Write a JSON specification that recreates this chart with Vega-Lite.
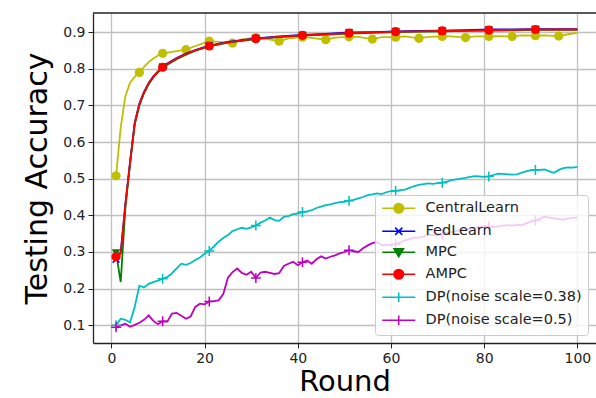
{
  "$schema": "https://vega.github.io/schema/vega-lite/v6.json",
  "width": 503,
  "height": 330,
  "autosize": {"type": "none"},
  "padding": {"left": 93, "top": 13, "right": 0, "bottom": 55},
  "background": "white",
  "config": {
    "view": {"stroke": null},
    "font": "DejaVu Sans",
    "axis": {"labelFont": "DejaVu Sans", "titleFont": "DejaVu Sans", "labelColor": "#222", "titleColor": "#000", "titleFontWeight": "normal", "domainColor": "#222", "domainWidth": 1.3, "tickColor": "#222", "tickWidth": 1, "tickSize": 5, "gridColor": "#c0c0c0", "gridWidth": 1.3, "gridOpacity": 1, "labelFontSize": 14, "labelPadding": 3}
  },
  "datasets": {
    "acc": [
      {"s":"CentralLearn","r":1,"v":0.508},{"s":"CentralLearn","r":2,"v":0.64},{"s":"CentralLearn","r":3,"v":0.725},{"s":"CentralLearn","r":4,"v":0.762},{"s":"CentralLearn","r":5,"v":0.778},{"s":"CentralLearn","r":6,"v":0.79},{"s":"CentralLearn","r":7,"v":0.805},{"s":"CentralLearn","r":8,"v":0.818},{"s":"CentralLearn","r":9,"v":0.828},{"s":"CentralLearn","r":10,"v":0.836},{"s":"CentralLearn","r":11,"v":0.842},{"s":"CentralLearn","r":13,"v":0.846},{"s":"CentralLearn","r":16,"v":0.852},{"s":"CentralLearn","r":18,"v":0.862},{"s":"CentralLearn","r":21,"v":0.875},{"s":"CentralLearn","r":23,"v":0.873},{"s":"CentralLearn","r":26,"v":0.870},{"s":"CentralLearn","r":28,"v":0.880},{"s":"CentralLearn","r":31,"v":0.885},{"s":"CentralLearn","r":33,"v":0.882},{"s":"CentralLearn","r":36,"v":0.875},{"s":"CentralLearn","r":38,"v":0.883},{"s":"CentralLearn","r":41,"v":0.886},{"s":"CentralLearn","r":43,"v":0.884},{"s":"CentralLearn","r":46,"v":0.879},{"s":"CentralLearn","r":48,"v":0.885},{"s":"CentralLearn","r":51,"v":0.887},{"s":"CentralLearn","r":53,"v":0.887},{"s":"CentralLearn","r":56,"v":0.881},{"s":"CentralLearn","r":58,"v":0.886},{"s":"CentralLearn","r":61,"v":0.886},{"s":"CentralLearn","r":63,"v":0.888},{"s":"CentralLearn","r":66,"v":0.883},{"s":"CentralLearn","r":68,"v":0.887},{"s":"CentralLearn","r":71,"v":0.888},{"s":"CentralLearn","r":73,"v":0.888},{"s":"CentralLearn","r":76,"v":0.885},{"s":"CentralLearn","r":78,"v":0.888},{"s":"CentralLearn","r":81,"v":0.888},{"s":"CentralLearn","r":83,"v":0.889},{"s":"CentralLearn","r":86,"v":0.888},{"s":"CentralLearn","r":88,"v":0.891},{"s":"CentralLearn","r":91,"v":0.890},{"s":"CentralLearn","r":93,"v":0.891},{"s":"CentralLearn","r":96,"v":0.889},{"s":"CentralLearn","r":98,"v":0.894},{"s":"CentralLearn","r":100,"v":0.898},

      {"s":"FedLearn","r":1,"v":0.280},{"s":"FedLearn","r":2,"v":0.300},{"s":"FedLearn","r":3,"v":0.43},{"s":"FedLearn","r":4,"v":0.545},{"s":"FedLearn","r":5,"v":0.652},{"s":"FedLearn","r":6,"v":0.705},{"s":"FedLearn","r":7,"v":0.737},{"s":"FedLearn","r":8,"v":0.761},{"s":"FedLearn","r":9,"v":0.779},{"s":"FedLearn","r":10,"v":0.793},{"s":"FedLearn","r":11,"v":0.805},{"s":"FedLearn","r":12,"v":0.814},{"s":"FedLearn","r":14,"v":0.829},{"s":"FedLearn","r":16,"v":0.841},{"s":"FedLearn","r":18,"v":0.851},{"s":"FedLearn","r":21,"v":0.863},{"s":"FedLearn","r":25,"v":0.873},{"s":"FedLearn","r":31,"v":0.883},{"s":"FedLearn","r":36,"v":0.888},{"s":"FedLearn","r":41,"v":0.892},{"s":"FedLearn","r":46,"v":0.895},{"s":"FedLearn","r":51,"v":0.899},{"s":"FedLearn","r":56,"v":0.900},{"s":"FedLearn","r":61,"v":0.902},{"s":"FedLearn","r":66,"v":0.903},{"s":"FedLearn","r":71,"v":0.904},{"s":"FedLearn","r":76,"v":0.905},{"s":"FedLearn","r":81,"v":0.907},{"s":"FedLearn","r":86,"v":0.907},{"s":"FedLearn","r":91,"v":0.908},{"s":"FedLearn","r":96,"v":0.908},{"s":"FedLearn","r":100,"v":0.908},

      {"s":"MPC","r":1,"v":0.297},{"s":"MPC","r":2,"v":0.218},{"s":"MPC","r":3,"v":0.42},{"s":"MPC","r":4,"v":0.540},{"s":"MPC","r":5,"v":0.648},{"s":"MPC","r":6,"v":0.700},{"s":"MPC","r":7,"v":0.733},{"s":"MPC","r":8,"v":0.758},{"s":"MPC","r":9,"v":0.776},{"s":"MPC","r":10,"v":0.790},{"s":"MPC","r":11,"v":0.802},{"s":"MPC","r":12,"v":0.811},{"s":"MPC","r":14,"v":0.826},{"s":"MPC","r":16,"v":0.838},{"s":"MPC","r":18,"v":0.849},{"s":"MPC","r":21,"v":0.861},{"s":"MPC","r":25,"v":0.871},{"s":"MPC","r":31,"v":0.881},{"s":"MPC","r":36,"v":0.886},{"s":"MPC","r":41,"v":0.890},{"s":"MPC","r":46,"v":0.893},{"s":"MPC","r":51,"v":0.896},{"s":"MPC","r":56,"v":0.898},{"s":"MPC","r":61,"v":0.900},{"s":"MPC","r":66,"v":0.901},{"s":"MPC","r":71,"v":0.902},{"s":"MPC","r":76,"v":0.903},{"s":"MPC","r":81,"v":0.904},{"s":"MPC","r":86,"v":0.905},{"s":"MPC","r":91,"v":0.906},{"s":"MPC","r":96,"v":0.906},{"s":"MPC","r":100,"v":0.906},

      {"s":"AMPC","r":1,"v":0.287},{"s":"AMPC","r":2,"v":0.295},{"s":"AMPC","r":3,"v":0.43},{"s":"AMPC","r":4,"v":0.543},{"s":"AMPC","r":5,"v":0.650},{"s":"AMPC","r":6,"v":0.703},{"s":"AMPC","r":7,"v":0.735},{"s":"AMPC","r":8,"v":0.760},{"s":"AMPC","r":9,"v":0.778},{"s":"AMPC","r":10,"v":0.792},{"s":"AMPC","r":11,"v":0.804},{"s":"AMPC","r":12,"v":0.813},{"s":"AMPC","r":14,"v":0.828},{"s":"AMPC","r":16,"v":0.840},{"s":"AMPC","r":18,"v":0.850},{"s":"AMPC","r":21,"v":0.862},{"s":"AMPC","r":25,"v":0.872},{"s":"AMPC","r":31,"v":0.882},{"s":"AMPC","r":36,"v":0.887},{"s":"AMPC","r":41,"v":0.891},{"s":"AMPC","r":46,"v":0.894},{"s":"AMPC","r":51,"v":0.897},{"s":"AMPC","r":56,"v":0.899},{"s":"AMPC","r":61,"v":0.901},{"s":"AMPC","r":66,"v":0.902},{"s":"AMPC","r":71,"v":0.903},{"s":"AMPC","r":76,"v":0.904},{"s":"AMPC","r":81,"v":0.905},{"s":"AMPC","r":86,"v":0.906},{"s":"AMPC","r":91,"v":0.907},{"s":"AMPC","r":96,"v":0.907},{"s":"AMPC","r":100,"v":0.907},

      {"s":"DP(noise scale=0.38)","r":1,"v":0.100},{"s":"DP(noise scale=0.38)","r":2,"v":0.118},{"s":"DP(noise scale=0.38)","r":3,"v":0.115},{"s":"DP(noise scale=0.38)","r":4,"v":0.108},{"s":"DP(noise scale=0.38)","r":5,"v":0.150},{"s":"DP(noise scale=0.38)","r":6,"v":0.208},{"s":"DP(noise scale=0.38)","r":7,"v":0.203},{"s":"DP(noise scale=0.38)","r":8,"v":0.213},{"s":"DP(noise scale=0.38)","r":9,"v":0.218},{"s":"DP(noise scale=0.38)","r":10,"v":0.222},{"s":"DP(noise scale=0.38)","r":11,"v":0.227},{"s":"DP(noise scale=0.38)","r":12,"v":0.232},{"s":"DP(noise scale=0.38)","r":13,"v":0.242},{"s":"DP(noise scale=0.38)","r":14,"v":0.255},{"s":"DP(noise scale=0.38)","r":15,"v":0.268},{"s":"DP(noise scale=0.38)","r":16,"v":0.265},{"s":"DP(noise scale=0.38)","r":17,"v":0.270},{"s":"DP(noise scale=0.38)","r":18,"v":0.278},{"s":"DP(noise scale=0.38)","r":19,"v":0.285},{"s":"DP(noise scale=0.38)","r":20,"v":0.295},{"s":"DP(noise scale=0.38)","r":21,"v":0.303},{"s":"DP(noise scale=0.38)","r":22,"v":0.315},{"s":"DP(noise scale=0.38)","r":23,"v":0.328},{"s":"DP(noise scale=0.38)","r":24,"v":0.338},{"s":"DP(noise scale=0.38)","r":25,"v":0.346},{"s":"DP(noise scale=0.38)","r":26,"v":0.357},{"s":"DP(noise scale=0.38)","r":27,"v":0.362},{"s":"DP(noise scale=0.38)","r":28,"v":0.366},{"s":"DP(noise scale=0.38)","r":29,"v":0.363},{"s":"DP(noise scale=0.38)","r":30,"v":0.367},{"s":"DP(noise scale=0.38)","r":31,"v":0.372},{"s":"DP(noise scale=0.38)","r":32,"v":0.380},{"s":"DP(noise scale=0.38)","r":33,"v":0.386},{"s":"DP(noise scale=0.38)","r":34,"v":0.394},{"s":"DP(noise scale=0.38)","r":35,"v":0.387},{"s":"DP(noise scale=0.38)","r":36,"v":0.385},{"s":"DP(noise scale=0.38)","r":37,"v":0.396},{"s":"DP(noise scale=0.38)","r":38,"v":0.398},{"s":"DP(noise scale=0.38)","r":39,"v":0.403},{"s":"DP(noise scale=0.38)","r":40,"v":0.405},{"s":"DP(noise scale=0.38)","r":41,"v":0.409},{"s":"DP(noise scale=0.38)","r":42,"v":0.411},{"s":"DP(noise scale=0.38)","r":43,"v":0.414},{"s":"DP(noise scale=0.38)","r":44,"v":0.420},{"s":"DP(noise scale=0.38)","r":45,"v":0.424},{"s":"DP(noise scale=0.38)","r":46,"v":0.428},{"s":"DP(noise scale=0.38)","r":47,"v":0.430},{"s":"DP(noise scale=0.38)","r":48,"v":0.433},{"s":"DP(noise scale=0.38)","r":49,"v":0.436},{"s":"DP(noise scale=0.38)","r":50,"v":0.437},{"s":"DP(noise scale=0.38)","r":51,"v":0.440},{"s":"DP(noise scale=0.38)","r":52,"v":0.442},{"s":"DP(noise scale=0.38)","r":53,"v":0.446},{"s":"DP(noise scale=0.38)","r":54,"v":0.450},{"s":"DP(noise scale=0.38)","r":55,"v":0.455},{"s":"DP(noise scale=0.38)","r":56,"v":0.457},{"s":"DP(noise scale=0.38)","r":57,"v":0.460},{"s":"DP(noise scale=0.38)","r":58,"v":0.458},{"s":"DP(noise scale=0.38)","r":59,"v":0.463},{"s":"DP(noise scale=0.38)","r":60,"v":0.466},{"s":"DP(noise scale=0.38)","r":61,"v":0.467},{"s":"DP(noise scale=0.38)","r":62,"v":0.469},{"s":"DP(noise scale=0.38)","r":63,"v":0.470},{"s":"DP(noise scale=0.38)","r":64,"v":0.475},{"s":"DP(noise scale=0.38)","r":65,"v":0.480},{"s":"DP(noise scale=0.38)","r":66,"v":0.483},{"s":"DP(noise scale=0.38)","r":67,"v":0.485},{"s":"DP(noise scale=0.38)","r":68,"v":0.487},{"s":"DP(noise scale=0.38)","r":69,"v":0.486},{"s":"DP(noise scale=0.38)","r":70,"v":0.488},{"s":"DP(noise scale=0.38)","r":71,"v":0.489},{"s":"DP(noise scale=0.38)","r":72,"v":0.492},{"s":"DP(noise scale=0.38)","r":73,"v":0.496},{"s":"DP(noise scale=0.38)","r":74,"v":0.498},{"s":"DP(noise scale=0.38)","r":75,"v":0.500},{"s":"DP(noise scale=0.38)","r":76,"v":0.502},{"s":"DP(noise scale=0.38)","r":77,"v":0.505},{"s":"DP(noise scale=0.38)","r":78,"v":0.507},{"s":"DP(noise scale=0.38)","r":79,"v":0.506},{"s":"DP(noise scale=0.38)","r":80,"v":0.505},{"s":"DP(noise scale=0.38)","r":81,"v":0.506},{"s":"DP(noise scale=0.38)","r":82,"v":0.510},{"s":"DP(noise scale=0.38)","r":83,"v":0.514},{"s":"DP(noise scale=0.38)","r":84,"v":0.513},{"s":"DP(noise scale=0.38)","r":85,"v":0.512},{"s":"DP(noise scale=0.38)","r":86,"v":0.511},{"s":"DP(noise scale=0.38)","r":87,"v":0.512},{"s":"DP(noise scale=0.38)","r":88,"v":0.516},{"s":"DP(noise scale=0.38)","r":89,"v":0.520},{"s":"DP(noise scale=0.38)","r":90,"v":0.523},{"s":"DP(noise scale=0.38)","r":91,"v":0.524},{"s":"DP(noise scale=0.38)","r":92,"v":0.524},{"s":"DP(noise scale=0.38)","r":93,"v":0.525},{"s":"DP(noise scale=0.38)","r":94,"v":0.520},{"s":"DP(noise scale=0.38)","r":95,"v":0.516},{"s":"DP(noise scale=0.38)","r":96,"v":0.524},{"s":"DP(noise scale=0.38)","r":97,"v":0.529},{"s":"DP(noise scale=0.38)","r":98,"v":0.531},{"s":"DP(noise scale=0.38)","r":99,"v":0.530},{"s":"DP(noise scale=0.38)","r":100,"v":0.532},

      {"s":"DP(noise scale=0.5)","r":1,"v":0.095},{"s":"DP(noise scale=0.5)","r":2,"v":0.100},{"s":"DP(noise scale=0.5)","r":3,"v":0.104},{"s":"DP(noise scale=0.5)","r":4,"v":0.096},{"s":"DP(noise scale=0.5)","r":5,"v":0.101},{"s":"DP(noise scale=0.5)","r":6,"v":0.107},{"s":"DP(noise scale=0.5)","r":7,"v":0.115},{"s":"DP(noise scale=0.5)","r":8,"v":0.127},{"s":"DP(noise scale=0.5)","r":9,"v":0.112},{"s":"DP(noise scale=0.5)","r":10,"v":0.103},{"s":"DP(noise scale=0.5)","r":11,"v":0.111},{"s":"DP(noise scale=0.5)","r":12,"v":0.110},{"s":"DP(noise scale=0.5)","r":13,"v":0.132},{"s":"DP(noise scale=0.5)","r":14,"v":0.134},{"s":"DP(noise scale=0.5)","r":15,"v":0.126},{"s":"DP(noise scale=0.5)","r":16,"v":0.118},{"s":"DP(noise scale=0.5)","r":17,"v":0.124},{"s":"DP(noise scale=0.5)","r":18,"v":0.150},{"s":"DP(noise scale=0.5)","r":19,"v":0.159},{"s":"DP(noise scale=0.5)","r":20,"v":0.157},{"s":"DP(noise scale=0.5)","r":21,"v":0.165},{"s":"DP(noise scale=0.5)","r":22,"v":0.166},{"s":"DP(noise scale=0.5)","r":23,"v":0.168},{"s":"DP(noise scale=0.5)","r":24,"v":0.185},{"s":"DP(noise scale=0.5)","r":25,"v":0.230},{"s":"DP(noise scale=0.5)","r":26,"v":0.245},{"s":"DP(noise scale=0.5)","r":27,"v":0.255},{"s":"DP(noise scale=0.5)","r":28,"v":0.243},{"s":"DP(noise scale=0.5)","r":29,"v":0.238},{"s":"DP(noise scale=0.5)","r":30,"v":0.246},{"s":"DP(noise scale=0.5)","r":31,"v":0.229},{"s":"DP(noise scale=0.5)","r":32,"v":0.244},{"s":"DP(noise scale=0.5)","r":33,"v":0.246},{"s":"DP(noise scale=0.5)","r":34,"v":0.243},{"s":"DP(noise scale=0.5)","r":35,"v":0.240},{"s":"DP(noise scale=0.5)","r":36,"v":0.242},{"s":"DP(noise scale=0.5)","r":37,"v":0.262},{"s":"DP(noise scale=0.5)","r":38,"v":0.268},{"s":"DP(noise scale=0.5)","r":39,"v":0.273},{"s":"DP(noise scale=0.5)","r":40,"v":0.264},{"s":"DP(noise scale=0.5)","r":41,"v":0.272},{"s":"DP(noise scale=0.5)","r":42,"v":0.277},{"s":"DP(noise scale=0.5)","r":43,"v":0.268},{"s":"DP(noise scale=0.5)","r":44,"v":0.280},{"s":"DP(noise scale=0.5)","r":45,"v":0.288},{"s":"DP(noise scale=0.5)","r":46,"v":0.282},{"s":"DP(noise scale=0.5)","r":47,"v":0.287},{"s":"DP(noise scale=0.5)","r":48,"v":0.291},{"s":"DP(noise scale=0.5)","r":49,"v":0.296},{"s":"DP(noise scale=0.5)","r":50,"v":0.300},{"s":"DP(noise scale=0.5)","r":51,"v":0.305},{"s":"DP(noise scale=0.5)","r":52,"v":0.302},{"s":"DP(noise scale=0.5)","r":53,"v":0.300},{"s":"DP(noise scale=0.5)","r":54,"v":0.310},{"s":"DP(noise scale=0.5)","r":55,"v":0.318},{"s":"DP(noise scale=0.5)","r":56,"v":0.324},{"s":"DP(noise scale=0.5)","r":57,"v":0.327},{"s":"DP(noise scale=0.5)","r":58,"v":0.318},{"s":"DP(noise scale=0.5)","r":59,"v":0.320},{"s":"DP(noise scale=0.5)","r":60,"v":0.318},{"s":"DP(noise scale=0.5)","r":61,"v":0.321},{"s":"DP(noise scale=0.5)","r":62,"v":0.326},{"s":"DP(noise scale=0.5)","r":63,"v":0.332},{"s":"DP(noise scale=0.5)","r":64,"v":0.335},{"s":"DP(noise scale=0.5)","r":65,"v":0.339},{"s":"DP(noise scale=0.5)","r":66,"v":0.339},{"s":"DP(noise scale=0.5)","r":67,"v":0.342},{"s":"DP(noise scale=0.5)","r":68,"v":0.347},{"s":"DP(noise scale=0.5)","r":69,"v":0.346},{"s":"DP(noise scale=0.5)","r":70,"v":0.345},{"s":"DP(noise scale=0.5)","r":71,"v":0.348},{"s":"DP(noise scale=0.5)","r":72,"v":0.352},{"s":"DP(noise scale=0.5)","r":73,"v":0.355},{"s":"DP(noise scale=0.5)","r":74,"v":0.357},{"s":"DP(noise scale=0.5)","r":75,"v":0.360},{"s":"DP(noise scale=0.5)","r":76,"v":0.362},{"s":"DP(noise scale=0.5)","r":77,"v":0.364},{"s":"DP(noise scale=0.5)","r":78,"v":0.366},{"s":"DP(noise scale=0.5)","r":79,"v":0.368},{"s":"DP(noise scale=0.5)","r":80,"v":0.370},{"s":"DP(noise scale=0.5)","r":81,"v":0.370},{"s":"DP(noise scale=0.5)","r":82,"v":0.368},{"s":"DP(noise scale=0.5)","r":83,"v":0.370},{"s":"DP(noise scale=0.5)","r":84,"v":0.372},{"s":"DP(noise scale=0.5)","r":85,"v":0.373},{"s":"DP(noise scale=0.5)","r":86,"v":0.372},{"s":"DP(noise scale=0.5)","r":87,"v":0.374},{"s":"DP(noise scale=0.5)","r":88,"v":0.373},{"s":"DP(noise scale=0.5)","r":89,"v":0.378},{"s":"DP(noise scale=0.5)","r":90,"v":0.383},{"s":"DP(noise scale=0.5)","r":91,"v":0.386},{"s":"DP(noise scale=0.5)","r":92,"v":0.391},{"s":"DP(noise scale=0.5)","r":93,"v":0.396},{"s":"DP(noise scale=0.5)","r":94,"v":0.394},{"s":"DP(noise scale=0.5)","r":95,"v":0.392},{"s":"DP(noise scale=0.5)","r":96,"v":0.390},{"s":"DP(noise scale=0.5)","r":97,"v":0.388},{"s":"DP(noise scale=0.5)","r":98,"v":0.391},{"s":"DP(noise scale=0.5)","r":99,"v":0.393},{"s":"DP(noise scale=0.5)","r":100,"v":0.394}
    ]
  },
  "data": {"name": "acc"},
  "encoding": {
    "x": {"field": "r", "type": "quantitative", "scale": {"domain": [-3.95, 104.0], "nice": false, "zero": false},
      "axis": {"values": [0, 20, 40, 60, 80, 100], "title": "Round", "titleFontSize": 29, "titlePadding": 2, "grid": true}},
    "y": {"field": "v", "type": "quantitative", "scale": {"domain": [0.0517, 0.952], "nice": false, "zero": false},
      "axis": {"values": [0.1, 0.2, 0.3, 0.4, 0.5, 0.6, 0.7, 0.8, 0.9], "format": ".1f", "title": "Testing Accuracy", "titleFontSize": 30, "titlePadding": 10, "grid": true}},
    "color": {"field": "s", "type": "nominal",
      "scale": {"domain": ["CentralLearn", "FedLearn", "MPC", "AMPC", "DP(noise scale=0.38)", "DP(noise scale=0.5)"],
                "range": ["#bfbf00", "#0000ff", "#008000", "#ff0000", "#00bfbf", "#bf00bf"]},
      "legend": {"orient": "bottom-right", "offset": 8, "title": null, "labelFont": "DejaVu Sans", "labelFontSize": 14.5, "labelColor": "#222",
        "symbolSize": 144, "symbolStrokeWidth": 1.5, "labelOffset": 30, "rowPadding": 6, "padding": 6,
        "strokeColor": "#cccccc", "fillColor": "rgba(255,255,255,0.8)", "cornerRadius": 3,
        "encode": {"symbols": {"update": {
          "shape": {"signal": "(datum.value === 'CentralLearn' || datum.value === 'AMPC') ? 'M-1,0H4.5M0.95,0A0.8,0.8 0 1,0 2.55,0A0.8,0.8 0 1,0 0.95,0Z' : datum.value === 'MPC' ? 'M-1,0H4.5M0.95,-0.6L2.55,-0.6L1.75,0.75Z' : datum.value === 'FedLearn' ? 'M-1,0H4.5M1.15,-0.6L2.35,0.6M1.15,0.6L2.35,-0.6' : 'M-1,0H4.5M1.75,-0.8V0.8'"},
          "fill": {"scale": "color", "field": "value"},
          "stroke": {"scale": "color", "field": "value"},
          "strokeWidth": {"value": 1.5},
          "opacity": {"value": 1}
        }}}}
    }
  },
  "layer": [
    {"transform": [{"filter": "datum.s === 'CentralLearn'"}],
     "mark": {"type": "line", "strokeWidth": 1.8, "clip": true}},
    {"transform": [{"filter": "datum.s === 'CentralLearn' && datum.r % 5 === 1"}],
     "mark": {"type": "point", "shape": "circle", "filled": true, "size": 85, "strokeWidth": 0, "opacity": 1, "clip": true}},
    {"transform": [{"filter": "datum.s !== 'CentralLearn'"}],
     "mark": {"type": "line", "strokeWidth": 1.8, "clip": true}},
    {"transform": [{"filter": "datum.s === 'FedLearn' && datum.r % 10 === 1"}],
     "mark": {"type": "point", "shape": "M-0.7,-0.7L0.7,0.7M-0.7,0.7L0.7,-0.7", "filled": false, "size": 90, "strokeWidth": 1.5, "opacity": 1, "clip": true}},
    {"transform": [{"filter": "datum.s === 'MPC' && datum.r % 10 === 1"}],
     "mark": {"type": "point", "shape": "triangle-down", "filled": true, "size": 75, "strokeWidth": 0, "opacity": 1, "clip": true}},
    {"transform": [{"filter": "datum.s === 'AMPC' && datum.r % 10 === 1"}],
     "mark": {"type": "point", "shape": "circle", "filled": true, "size": 85, "strokeWidth": 0, "opacity": 1, "clip": true}},
    {"transform": [{"filter": "(datum.s === 'DP(noise scale=0.38)' || datum.s === 'DP(noise scale=0.5)') && datum.r % 10 === 1"}],
     "mark": {"type": "point", "shape": "M-1,0H1M0,-1V1", "filled": false, "size": 100, "strokeWidth": 1.5, "opacity": 1, "clip": true}},
    {"mark": {"type": "rule", "color": "#222", "strokeWidth": 1.3},
     "data": {"values": [{"top": 0.952}]},
     "encoding": {"y": {"field": "top", "type": "quantitative"}, "x": null, "color": null}}
  ]
}
